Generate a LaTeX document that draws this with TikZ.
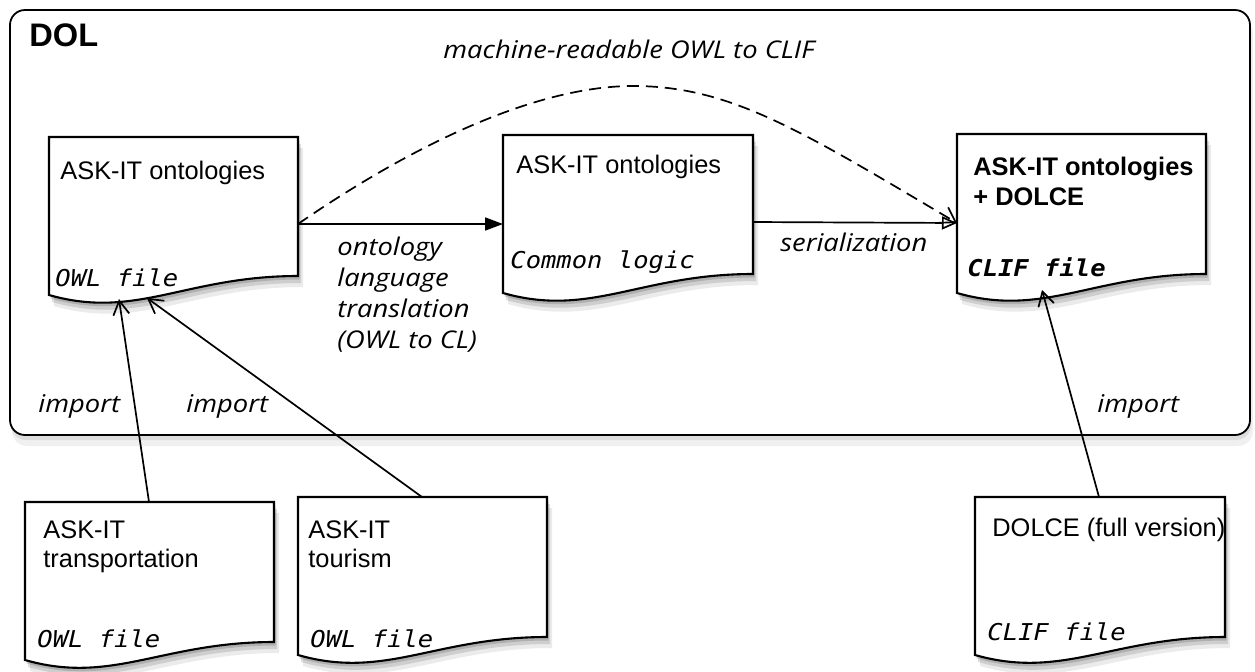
\documentclass[tikz,border=0pt]{standalone}
\usepackage{fontspec}
\setmainfont{Liberation Sans}
\newfontfamily\labfont{Open Sans}[FakeStretch=1.12]
\newfontfamily\codefont{DejaVu Sans Mono}[FakeStretch=1.1]
\usetikzlibrary{arrows.meta}
\tikzset{
  txt/.style={anchor=base west, inner sep=0pt, font=\fontsize{12.7}{15}\selectfont},
  btxt/.style={anchor=base west, inner sep=0pt, font=\fontsize{12.7}{15}\selectfont\bfseries},
  code/.style={anchor=base west, inner sep=0pt, font=\codefont\itshape\fontsize{11.6}{14}\selectfont},
  bcode/.style={anchor=base west, inner sep=0pt, font=\codefont\bfseries\itshape\fontsize{11.6}{14}\selectfont},
  lab/.style={anchor=base west, inner sep=0pt, font=\labfont\itshape\fontsize{12.2}{14}\selectfont},
  conn/.style={line width=0.85pt},
  imp/.style={conn, -{Straight Barb[length=7pt,width=8pt]}},
}
\newcommand\docp[6]{\path[#1] (#2,#3) -- (#4,#3) -- (#4,#5) .. controls ({#2+0.55*(#4-#2)},#5) and ({#2+0.35*(#4-#2)},{#6+25}) .. (#2,#6) -- cycle;}
\newcommand\docshape[5]{%
  \docp{fill=black,opacity=.08,shift={(5,11)}}{#1}{#2}{#3}{#4}{#5}%
  \docp{fill=black,opacity=.12,shift={(3,7)}}{#1}{#2}{#3}{#4}{#5}%
  \docp{fill=black,opacity=.15,shift={(1.5,3.5)}}{#1}{#2}{#3}{#4}{#5}%
  \docp{draw,fill=white,line width=1.05pt}{#1}{#2}{#3}{#4}{#5}}
\begin{document}
\begin{tikzpicture}[x=0.5pt,y=-0.5pt]
\useasboundingbox (0,0) rectangle (1255,671);
\fill[white] (0,0) rectangle (1255,671);
% outer DOL frame
\fill[black,opacity=.06,rounded corners=7.5pt] (12,18) rectangle (1253,446);
\fill[black,opacity=.08,rounded corners=7.5pt] (11,14) rectangle (1251,440);
\draw[line width=0.9pt,fill=white,rounded corners=7.5pt] (10,10) rectangle (1250,435);
\node[anchor=base west, inner sep=0pt, font=\fontsize{16.3}{18}\selectfont\bfseries] (dol) at (29,46) {DOL};

% documents
\docshape{49}{137}{298}{276}{295}
\docshape{503}{135}{753}{274}{293}
\docshape{957}{134}{1206}{274}{293}
\docshape{25}{502}{274}{642}{660}
\docshape{298}{497}{547}{637}{655}
\docshape{975}{497}{1225}{637}{655}

% box texts
\node[txt] (t1) at (60,179) {ASK-IT ontologies};
\node[code] (c1) at (55,286) {OWL file};
\node[txt] (t2) at (516,173) {ASK-IT ontologies};
\node[code] (c2) at (510,268) {Common logic};
\node[btxt] (t3a) at (973,175) {ASK-IT ontologies};
\node[btxt] (t3b) at (973,205) {+ DOLCE};
\node[bcode] (c3) at (967,276) {CLIF file};
\node[txt] (t4a) at (43,538) {ASK-IT};
\node[txt] (t4b) at (43,567) {transportation};
\node[code] (c4) at (37,647) {OWL file};
\node[txt] (t5a) at (308,538) {ASK-IT};
\node[txt] (t5b) at (308,567) {tourism};
\node[code] (c5) at (310,647) {OWL file};
\node[txt] (t6) at (992,536) {DOLCE (full version)};
\node[code] (c6) at (987,640) {CLIF file};

% connector end points
\coordinate (b1-out) at (298,224);
\coordinate (b2-in) at (503,224);
\coordinate (b2-out) at (753,222);
\coordinate (b3-in) at (957,223);
\coordinate (b1-bot1) at (119,299);
\coordinate (b1-bot2) at (147,298);
\coordinate (b3-bot) at (1042,290);
\coordinate (b4-top) at (149,502);
\coordinate (b5-top) at (422,497);
\coordinate (b6-top) at (1099,497);

% connectors
\draw[conn, -{Triangle[length=9pt,width=6.5pt]}] (b1-out) -- (b2-in);
\draw[conn, -{Triangle[open,length=7.5pt,width=6.5pt,fill=white]}] (b2-out) -- (b3-in);
\draw[conn, dash pattern=on 6pt off 3.5pt, -{Straight Barb[length=7pt,width=9pt]}]
  (b1-out) .. controls (420,140) and (540,86) .. (633,86)
  .. controls (730,86) and (800,130) .. (b3-in);
\draw[imp] (b4-top) -- (b1-bot1);
\draw[imp] (b5-top) -- (b1-bot2);
\draw[imp] (b6-top) -- (b3-bot);

% labels
\node[lab] (l1) at (443,58) {machine-readable OWL to CLIF};
\node[lab] (l2a) at (337,255) {ontology};
\node[lab] (l2b) at (337,286) {language};
\node[lab] (l2c) at (337,317) {translation};
\node[lab] (l2d) at (337,348) {(OWL to CL)};
\node[lab] (l3) at (780,251) {serialization};
\node[lab] (l4) at (38,412) {import};
\node[lab] (l5) at (186,412) {import};
\node[lab] (l6) at (1097,412) {import};
\end{tikzpicture}
\end{document}
